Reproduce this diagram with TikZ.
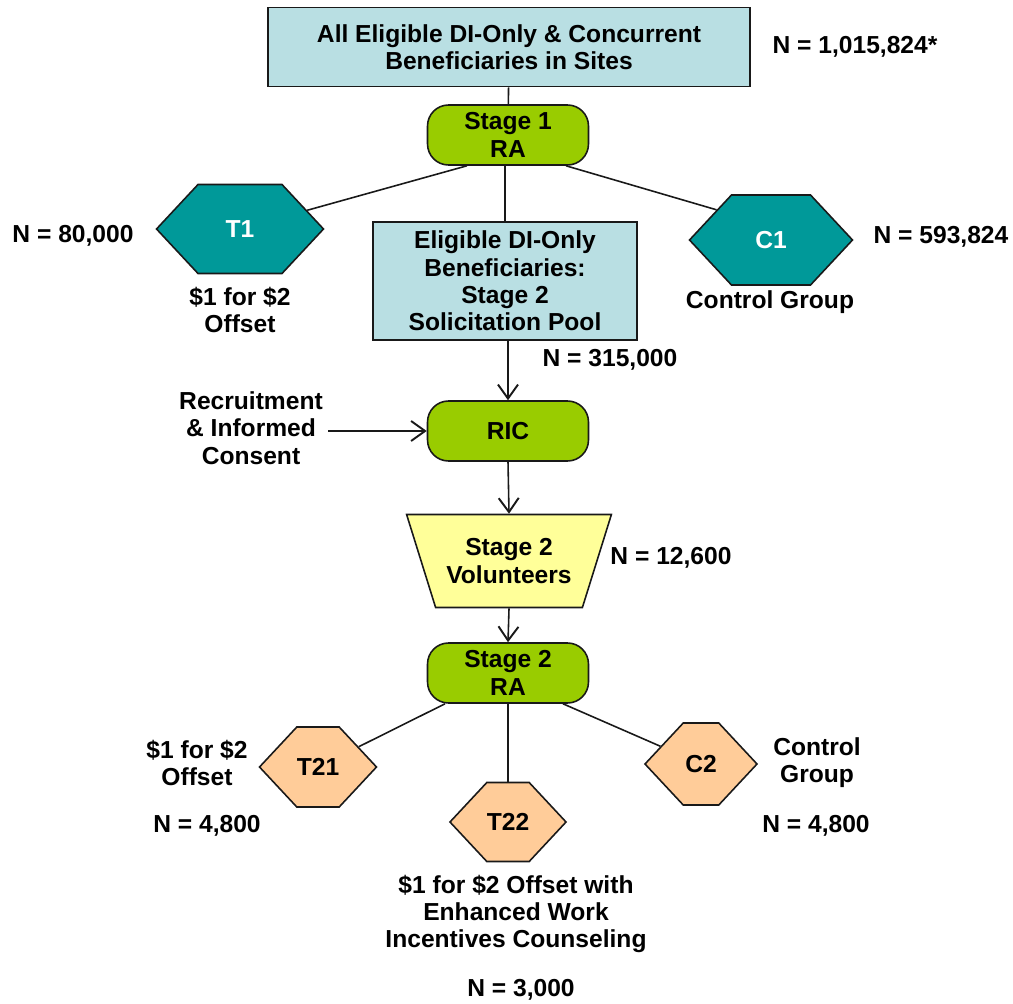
\documentclass[tikz,border=0pt]{standalone}
\usepackage{fontspec}
\setmainfont{Liberation Sans}
\usetikzlibrary{arrows.meta,positioning,calc,shapes.geometric,shapes.symbols}
\definecolor{inkBlack}{RGB}{25, 25, 25}
\definecolor{poolBlue}{RGB}{185, 223, 227}
\definecolor{raGreen}{RGB}{153, 204, 0}
\definecolor{stageTeal}{RGB}{0, 153, 153}
\definecolor{armPeach}{RGB}{255, 204, 153}
\definecolor{volYellow}{RGB}{255, 255, 153}

\begin{document}
\begin{tikzpicture}[
      x=0.02cm, y=-0.02cm,
      every node/.style={font=\fontsize{14pt}{15.5pt}\selectfont\bfseries, align=center, inner sep=0pt},
      pool/.style={draw=inkBlack, fill=poolBlue, line width=0.9pt},
      rand/.style={draw=inkBlack, fill=raGreen, rounded corners=0.42cm, line width=0.9pt, minimum width=3.22cm, minimum height=1.2cm},
      armbox/.style={draw=inkBlack, signal, signal to=east and west, signal pointer angle=94, line width=0.9pt},
      volbox/.style={draw=inkBlack, fill=volYellow, trapezium, shape border rotate=180, trapezium left angle=61, trapezium right angle=61, trapezium stretches=true, line width=0.9pt, minimum width=4.12cm, minimum height=1.86cm},
      lbl/.style={font=\fontsize{14pt}{15.5pt}\selectfont\bfseries},
      link/.style={line width=0.9pt, color=inkBlack},
      arr/.style={-{Straight Barb[length=2.8mm, width=4mm, line width=1.1pt]}, line width=0.9pt, color=inkBlack}
  ]
      \useasboundingbox (0,0) rectangle (1013,1003);

      % STAGE 1
      \node[pool, minimum width=9.64cm, minimum height=1.58cm] (allBen) at (509, 47) {All Eligible DI-Only \& Concurrent\\Beneficiaries in Sites};
      \node[lbl] (nAll) at (855, 47) {N = 1,015,824*};

      \node[rand] (raOne) at (508, 135) {Stage 1\\RA};

      \node[armbox, fill=stageTeal, text=white, minimum width=3.34cm, minimum height=1.78cm] (tOne) at (240, 229) {T1};
      \node[armbox, fill=stageTeal, text=white, minimum width=3.26cm, minimum height=1.8cm] (cOne) at (771, 240) {C1};
      \node[lbl] (nTOne) at (73, 236) {N = 80,000};
      \node[lbl] (nCOne) at (941, 237) {N = 593,824};
      \node[lbl] (dTOne) at (240, 310) {\$1 for \$2\\Offset};
      \node[lbl] (dCOne) at (770, 302) {Control Group};

      \node[pool, minimum width=5.28cm, minimum height=2.36cm] (solPool) at (505, 281) {Eligible DI-Only\\Beneficiaries:\\Stage 2\\Solicitation Pool};
      \node[lbl] (nPool) at (610, 360) {N = 315,000};

      \draw[link] (allBen) -- (raOne);
      \draw[link] ($(raOne.south)+(-41,0)$) -- (tOne);
      \draw[link] ($(raOne.south)+(58,0)$) -- (cOne.151);
      \draw[link] (raOne.south -| solPool.north) -- (solPool.north);

      % RECRUITMENT
      \node[rand] (ric) at (508, 431) {RIC};
      \node[lbl] (recruit) at (251, 428) {Recruitment\\\& Informed\\Consent};
      \draw[arr] (recruit.east |- ric.west) ++(5,0) -- (ric.west);
      \draw[arr] (solPool.south -| ric.north) -- (ric.north);

      % STAGE 2
      \node[volbox] (vol) at (509, 561) {Stage 2\\Volunteers};
      \node[lbl] (nVol) at (671, 558) {N = 12,600};
      \draw[arr] (ric.south) -- (vol.north);

      \node[rand] (raTwo) at (508, 673) {Stage 2\\RA};
      \draw[arr] (vol.south) -- (raTwo.north);

      \node[armbox, fill=armPeach, minimum width=2.26cm, minimum height=1.6cm] (tTwoOne) at (318, 767) {T21};
      \node[armbox, fill=armPeach, minimum width=2.28cm, minimum height=1.58cm] (tTwoTwo) at (508, 822) {T22};
      \node[armbox, fill=armPeach, minimum width=2.24cm, minimum height=1.64cm] (cTwo) at (701, 764) {C2};

      \draw[link] ($(raTwo.south)+(-63,0)$) -- (tTwoOne);
      \draw[link] (raTwo.south) -- (tTwoTwo.north);
      \draw[link] ($(raTwo.south)+(55,0)$) -- (cTwo);

      \node[lbl] (dTTwoOne) at (197, 763) {\$1 for \$2\\Offset};
      \node[lbl] (nTTwoOne) at (207, 826) {N = 4,800};
      \node[lbl] (dCTwo) at (817, 763) {Control\\Group};
      \node[lbl] (nCTwo) at (816, 826) {N = 4,800};
      \node[lbl] (dTTwoTwo) at (516, 914) {\$1 for \$2 Offset with\\Enhanced Work\\Incentives Counseling};
      \node[lbl] (nTTwoTwo) at (521, 990) {N = 3,000};
  \end{tikzpicture}
\end{document}
